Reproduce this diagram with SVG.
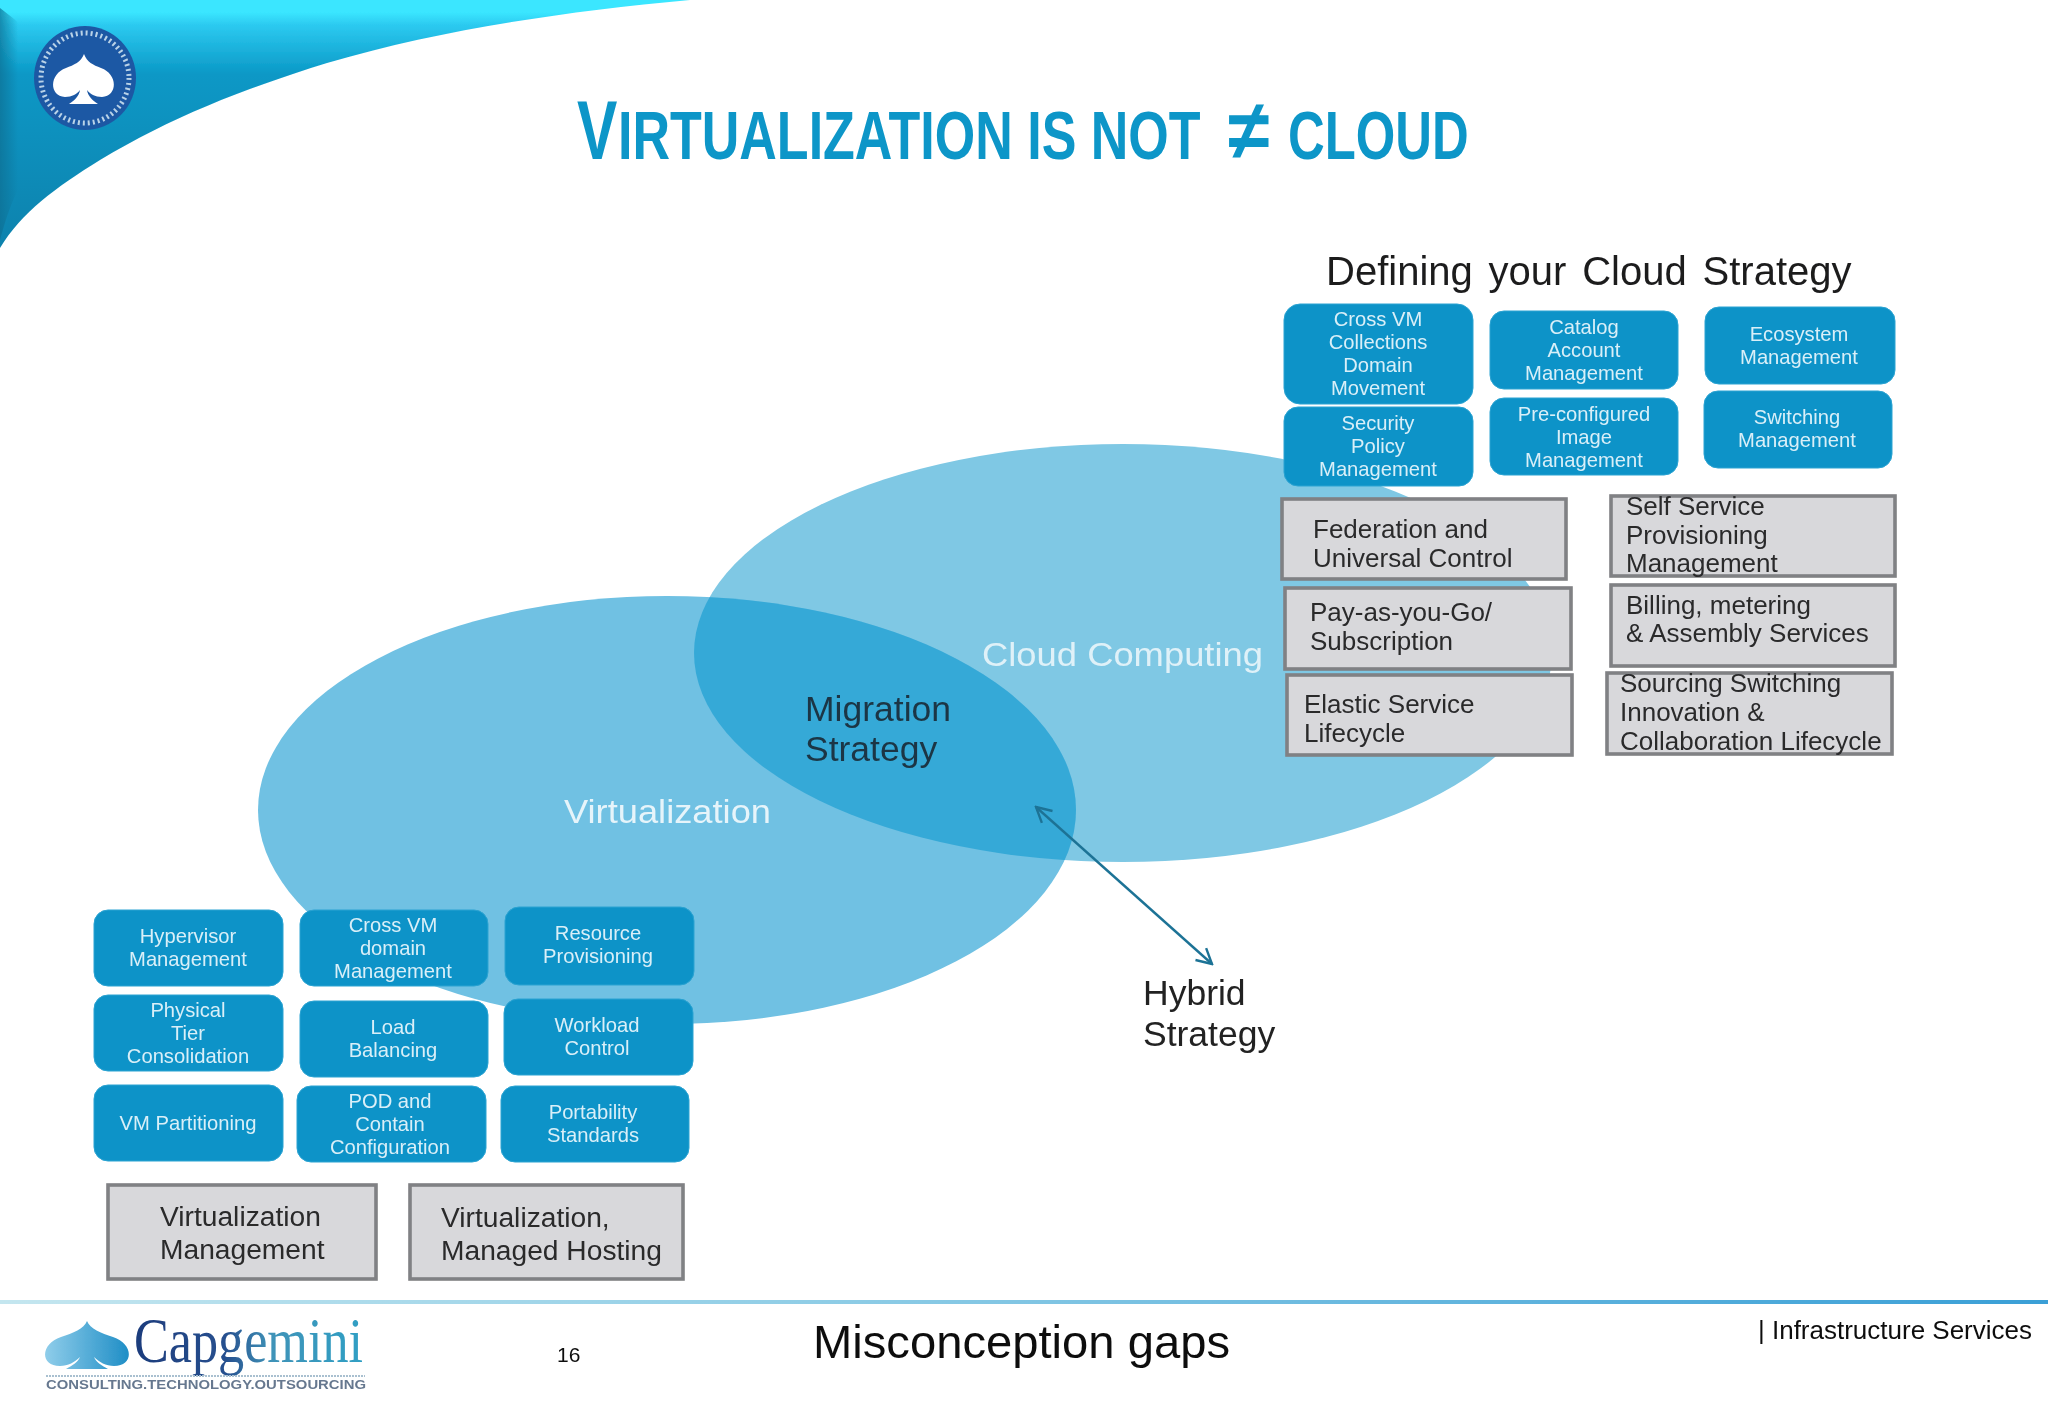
<svg xmlns="http://www.w3.org/2000/svg" width="2048" height="1418" viewBox="0 0 2048 1418">
<style>
text{font-family:"Liberation Sans",Arial,sans-serif}
.t{font-weight:bold;fill:#0e96c8;font-size:68px}
.b rect{fill:#0e93c8;stroke:#2aa3d2;stroke-width:1}
.b text{fill:#d9eff8;font-size:20.2px;text-anchor:middle}
.g rect{fill:#d8d8db;stroke:#808184;stroke-width:3.6}
.g text{fill:#2a2a2c;font-size:26px}
.lg text{font-size:28.2px}
.lab{font-size:34px}
.lab2{font-size:35.5px}
</style>
<defs>
<linearGradient id="sw" x1="0" y1="0" x2="0" y2="1"><stop offset="0" stop-color="#3ae6ff"/><stop offset="0.05" stop-color="#3ae6ff"/><stop offset="0.1" stop-color="#2ccaf0"/><stop offset="0.3" stop-color="#0a98c6"/><stop offset="1" stop-color="#0b82ad"/></linearGradient>
<linearGradient id="ft" x1="0" y1="0" x2="1" y2="0"><stop offset="0" stop-color="#c4e6ef"/><stop offset="0.4" stop-color="#8fcde6"/><stop offset="1" stop-color="#3a9fd6"/></linearGradient>
<linearGradient id="sp" x1="0" y1="0" x2="1" y2="0"><stop offset="0" stop-color="#8fcdea"/><stop offset="1" stop-color="#1f8ec6"/></linearGradient>
<linearGradient id="cg" x1="0" y1="0" x2="1" y2="0"><stop offset="0" stop-color="#1d3c7c"/><stop offset="0.4" stop-color="#27508f"/><stop offset="0.6" stop-color="#3f93b8"/><stop offset="1" stop-color="#2f9fc4"/></linearGradient>
<linearGradient id="edge" x1="0" y1="0" x2="1" y2="0"><stop offset="0" stop-color="#0a6f93" stop-opacity=".7"/><stop offset="1" stop-color="#0a6f93" stop-opacity="0"/></linearGradient>
<marker id="ah" viewBox="0 0 20 20" refX="18" refY="10" markerWidth="20" markerHeight="20" markerUnits="userSpaceOnUse" orient="auto-start-reverse"><path d="M3 2L18 10L3 18" fill="none" stroke="#1f7396" stroke-width="2.4"/></marker>
<filter id="soft" x="-2%" y="-2%" width="104%" height="104%"><feGaussianBlur stdDeviation="0.6"/></filter>
<clipPath id="vc"><ellipse cx="667" cy="810" rx="409" ry="214"/></clipPath>
</defs>
<rect width="2048" height="1418" fill="#fff"/>
<g filter="url(#soft)">
<g id="header">
<path d="M0 0H690C560 12 440 30 327 63C240 90 170 118 100 160C55 188 22 212 0 248Z" fill="url(#sw)"/>
<path d="M0 8L18 22V190C10 205 4 225 0 240Z" fill="url(#edge)"/>
<g id="seal">
<ellipse cx="85" cy="78" rx="51" ry="52" fill="#1f58a4"/>
<ellipse cx="85" cy="78" rx="44" ry="45" fill="none" stroke="#b9d3e8" stroke-width="5" stroke-dasharray="2 3"/>
<path d="M84 54C87 62 93 65 101 68C118 74 118 96 102 97C95 97 90 94 87 90C88 96 92 100 98 104H69C75 100 79 96 80 90C77 94 72 97 65 97C49 96 49 74 66 68C74 65 81 62 84 54Z" fill="#fff"/>
</g>
</g>
<g id="title">
<text class="t" transform="translate(577 159) scale(.72 1)" style="font-size:84px">V</text>
<text class="t" transform="translate(618 159) scale(.765 1)">IRTUALIZATION IS NOT</text>
<text class="t" transform="translate(1228 159) scale(.9 1)" style="font-size:84px">≠</text>
<text class="t" transform="translate(1288 159) scale(.748 1)">CLOUD</text>
</g>
<g id="venn">
<ellipse id="cloud" cx="1123" cy="653" rx="429" ry="209" fill="#7fc8e4"/>
<ellipse id="virtualization" cx="667" cy="810" rx="409" ry="214" fill="#70c1e3"/>
<ellipse id="overlap" cx="1123" cy="653" rx="429" ry="209" fill="#36a9d7" clip-path="url(#vc)"/>
<text class="lab" x="982" y="666" fill="#dff1f8" textLength="281" lengthAdjust="spacingAndGlyphs">Cloud Computing</text>
<text class="lab" x="564" y="823" fill="#e6f4fa" textLength="207" lengthAdjust="spacingAndGlyphs">Virtualization</text>
<text class="lab2" x="805" y="721" fill="#1b3644">Migration</text>
<text class="lab2" x="805" y="761" fill="#1b3644">Strategy</text>
</g>
<g id="connectors">
<line x1="1036" y1="807" x2="1212" y2="964" stroke="#1f7396" stroke-width="2.4" marker-start="url(#ah)" marker-end="url(#ah)"/>
</g>
<g id="hybrid"><text class="lab2" x="1143" y="1005" fill="#222">Hybrid</text><text class="lab2" x="1143" y="1046" fill="#222">Strategy</text></g>
<text id="cloud-heading" x="1326" y="285" font-size="40" fill="#1c1c1e" word-spacing="4.7">Defining your Cloud Strategy</text>

<g id="n-crossvm-collections" class="b"><rect x="1284" y="304" width="189" height="100" rx="16"/><text y="326"><tspan x="1378">Cross VM</tspan><tspan x="1378" dy="23">Collections</tspan><tspan x="1378" dy="23">Domain</tspan><tspan x="1378" dy="23">Movement</tspan></text></g>
<g id="n-security" class="b"><rect x="1284" y="407" width="189" height="79" rx="14"/><text y="430"><tspan x="1378">Security</tspan><tspan x="1378" dy="23">Policy</tspan><tspan x="1378" dy="23">Management</tspan></text></g>
<g id="n-catalog" class="b"><rect x="1490" y="311" width="188" height="78" rx="14"/><text y="334"><tspan x="1584">Catalog</tspan><tspan x="1584" dy="23">Account</tspan><tspan x="1584" dy="23">Management</tspan></text></g>
<g id="n-preconfigured" class="b"><rect x="1490" y="398" width="188" height="77" rx="14"/><text y="421"><tspan x="1584">Pre-configured</tspan><tspan x="1584" dy="23">Image</tspan><tspan x="1584" dy="23">Management</tspan></text></g>
<g id="n-ecosystem" class="b"><rect x="1705" y="307" width="190" height="77" rx="14"/><text y="341"><tspan x="1799">Ecosystem</tspan><tspan x="1799" dy="23">Management</tspan></text></g>
<g id="n-switching" class="b"><rect x="1704" y="391" width="188" height="77" rx="14"/><text y="424"><tspan x="1797">Switching</tspan><tspan x="1797" dy="23">Management</tspan></text></g>

<g id="n-federation" class="g"><rect x="1282" y="499" width="284" height="80"/><text y="538"><tspan x="1313">Federation and</tspan><tspan x="1313" dy="29">Universal Control</tspan></text></g>
<g id="n-payg" class="g"><rect x="1285" y="588" width="286" height="81"/><text y="621"><tspan x="1310">Pay-as-you-Go/</tspan><tspan x="1310" dy="29">Subscription</tspan></text></g>
<g id="n-elastic" class="g"><rect x="1287" y="675" width="285" height="80"/><text y="713"><tspan x="1304">Elastic Service</tspan><tspan x="1304" dy="29">Lifecycle</tspan></text></g>
<g id="n-selfservice" class="g"><rect x="1611" y="496" width="284" height="80"/><text y="515"><tspan x="1626">Self Service</tspan><tspan x="1626" dy="29">Provisioning</tspan><tspan x="1626" dy="28">Management</tspan></text></g>
<g id="n-billing" class="g"><rect x="1611" y="585" width="284" height="81"/><text y="614"><tspan x="1626">Billing, metering</tspan><tspan x="1626" dy="28">&amp; Assembly Services</tspan></text></g>
<g id="n-sourcing" class="g"><rect x="1607" y="673" width="285" height="81"/><text y="692"><tspan x="1620">Sourcing Switching</tspan><tspan x="1620" dy="29">Innovation &amp;</tspan><tspan x="1620" dy="29">Collaboration Lifecycle</tspan></text></g>

<g id="n-hypervisor" class="b"><rect x="94" y="910" width="189" height="76" rx="14"/><text y="943"><tspan x="188">Hypervisor</tspan><tspan x="188" dy="23">Management</tspan></text></g>
<g id="n-crossvm-domain" class="b"><rect x="300" y="910" width="188" height="76" rx="14"/><text y="932"><tspan x="393">Cross VM</tspan><tspan x="393" dy="23">domain</tspan><tspan x="393" dy="23">Management</tspan></text></g>
<g id="n-resource" class="b"><rect x="505" y="907" width="189" height="78" rx="14"/><text y="940"><tspan x="598">Resource</tspan><tspan x="598" dy="23">Provisioning</tspan></text></g>
<g id="n-physical" class="b"><rect x="94" y="995" width="189" height="76" rx="14"/><text y="1017"><tspan x="188">Physical</tspan><tspan x="188" dy="23">Tier</tspan><tspan x="188" dy="23">Consolidation</tspan></text></g>
<g id="n-load" class="b"><rect x="300" y="1001" width="188" height="76" rx="14"/><text y="1034"><tspan x="393">Load</tspan><tspan x="393" dy="23">Balancing</tspan></text></g>
<g id="n-workload" class="b"><rect x="504" y="999" width="189" height="76" rx="14"/><text y="1032"><tspan x="597">Workload</tspan><tspan x="597" dy="23">Control</tspan></text></g>
<g id="n-vmpartitioning" class="b"><rect x="94" y="1085" width="189" height="76" rx="14"/><text x="188" y="1130">VM Partitioning</text></g>
<g id="n-pod" class="b"><rect x="297" y="1086" width="189" height="76" rx="14"/><text y="1108"><tspan x="390">POD and</tspan><tspan x="390" dy="23">Contain</tspan><tspan x="390" dy="23">Configuration</tspan></text></g>
<g id="n-portability" class="b"><rect x="501" y="1086" width="188" height="76" rx="14"/><text y="1119"><tspan x="593">Portability</tspan><tspan x="593" dy="23">Standards</tspan></text></g>

<g id="n-virt-mgmt" class="g lg"><rect x="108" y="1185" width="268" height="94"/><text y="1226"><tspan x="160">Virtualization</tspan><tspan x="160" dy="33">Management</tspan></text></g>
<g id="n-virt-hosting" class="g lg"><rect x="410" y="1185" width="273" height="94"/><text y="1227"><tspan x="441">Virtualization,</tspan><tspan x="441" dy="33">Managed Hosting</tspan></text></g>

<g id="footer">
<rect x="0" y="1300" width="2048" height="4" fill="url(#ft)"/>
<g id="capgemini-logo">
<path d="M87 1321C90 1329 101 1333 113 1337C134 1344 134 1366 114 1366C106 1366 99 1362 94 1357C96 1362 101 1365 108 1369H66C73 1365 78 1362 80 1357C75 1362 68 1366 60 1366C40 1366 40 1344 61 1337C73 1333 84 1329 87 1321Z" fill="url(#sp)"/>
<text x="134" y="1362" font-size="64" textLength="229" lengthAdjust="spacingAndGlyphs" fill="url(#cg)" style="font-family:'Liberation Serif',serif">Capgemini</text>
<line x1="46" y1="1376" x2="365" y2="1376" stroke="#a9c0d0" stroke-width="2" stroke-dasharray="2 1"/>
<text x="46" y="1389" font-size="13.5" textLength="320" lengthAdjust="spacingAndGlyphs" fill="#66788f" font-weight="bold">CONSULTING.TECHNOLOGY.OUTSOURCING</text>
</g>
<text id="page" x="557" y="1362" font-size="21" fill="#111">16</text>
<text id="caption" x="813" y="1358" font-size="46" fill="#111" textLength="417" lengthAdjust="spacingAndGlyphs">Misconception gaps</text>
<text id="section" x="1758" y="1339" font-size="25" fill="#111" textLength="274" lengthAdjust="spacingAndGlyphs">| Infrastructure Services</text>
</g>
</g>
</svg>
